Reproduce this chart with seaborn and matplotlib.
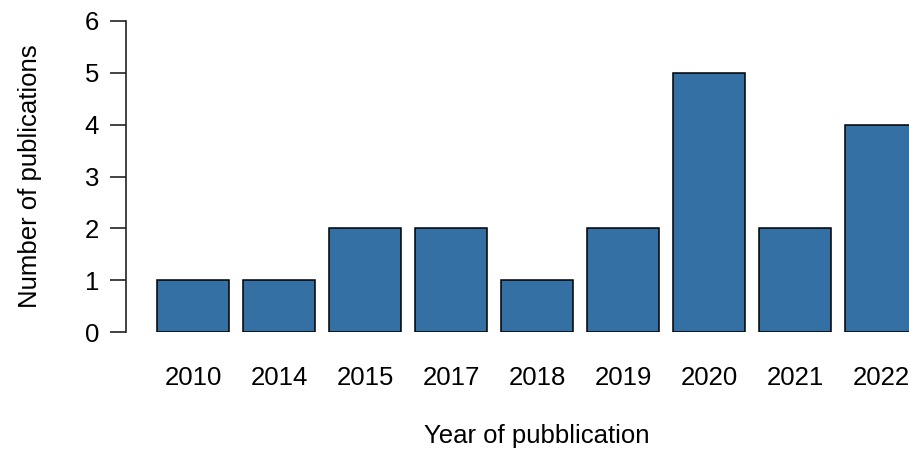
import pandas as pd
import matplotlib
matplotlib.use('Agg')
import matplotlib.pyplot as plt
import seaborn as sns

# Data
years = ['2010', '2014', '2015', '2017', '2018', '2019', '2020', '2021', '2022']
counts = [1, 1, 2, 2, 1, 2, 5, 2, 4]

df = pd.DataFrame({'year': years, 'count': counts})

sns.set_style('white')
plt.rcParams['font.family'] = ['Liberation Sans', 'DejaVu Sans']
plt.rcParams['text.color'] = 'black'
plt.rcParams['xtick.labelcolor'] = 'black'
plt.rcParams['ytick.labelcolor'] = 'black'

fig = plt.figure(figsize=(9.09, 4.49), dpi=100)
# axes box: x from px 126 to 909, y from px 332 (0) to 21 (6)
ax = fig.add_axes([126 / 909, (449 - 332) / 449, (909 - 126) / 909, (332 - 21) / 449])

sns.barplot(data=df, x='year', y='count', color='#3470a3', saturation=1,
            width=0.8333, edgecolor='black', linewidth=1.1, ax=ax)

ax.set_xlim(-0.779, 8.326)
ax.set_ylim(0, 6)
ax.set_yticks(range(0, 7))

for s in ['top', 'right', 'bottom']:
    ax.spines[s].set_visible(False)
ax.spines['left'].set_color('#222222')
ax.spines['left'].set_linewidth(1.2)

ax.tick_params(axis='y', length=11.5, width=1.2, color='#222222', pad=8,
               labelsize=18.5, left=True, labelcolor='black')
ax.tick_params(axis='x', length=0, pad=24.5, labelsize=18.5, labelcolor='black')

ax.set_xlabel('')
ax.set_ylabel('')
fig.text(30 / 909, (449 - 176.5) / 449, 'Number of publications', rotation=90,
         ha='center', va='center', fontsize=18.5, color='black')
fig.text(537 / 909, 1 / 449, 'Year of pubblication', ha='center',
         va='bottom', fontsize=18.5, color='black')

fig.savefig('out.png', dpi=100)
